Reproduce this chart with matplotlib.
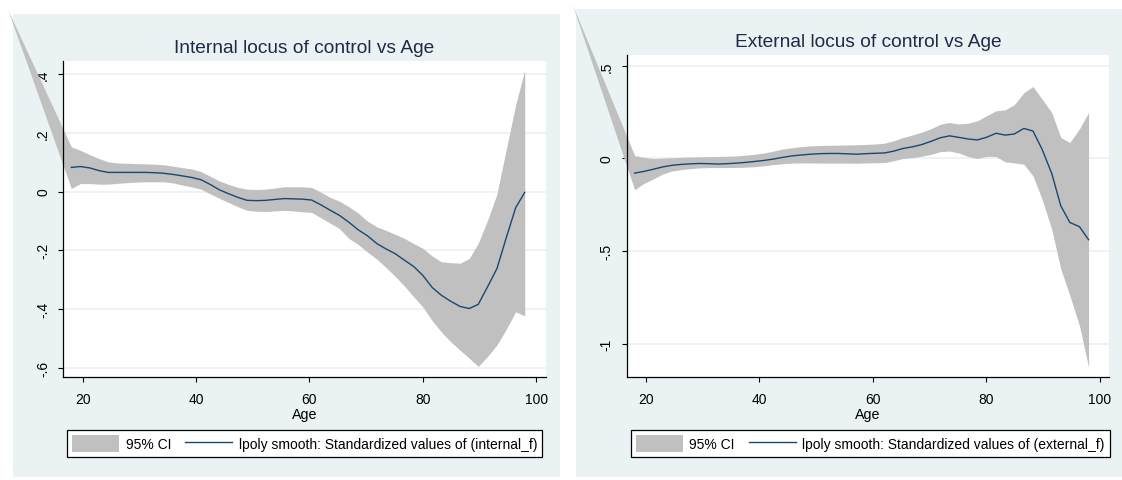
import numpy as np
import matplotlib
matplotlib.use("Agg")
import matplotlib.pyplot as plt
from matplotlib.patches import Rectangle
from matplotlib import font_manager

plt.rcParams['font.family'] = ['Liberation Sans', 'DejaVu Sans']

# ---------------- data: internal locus of control ----------------
int_age = [6.8, 18.0, 19.6, 21.3, 22.9, 24.5, 26.2, 27.8, 29.4, 31.1, 32.7, 34.3,
           36.0, 37.6, 39.2, 40.9, 42.5, 44.1, 45.8, 47.4, 49.0, 50.7, 52.3, 53.9,
           55.6, 57.2, 58.8, 60.4, 62.1, 63.7, 65.3, 67.0, 68.6, 70.2, 71.9, 73.5,
           75.1, 76.8, 78.4, 80.0, 81.7, 83.3, 84.9, 86.6, 88.2, 89.8, 91.5, 93.1,
           94.7, 96.4, 98.0]
int_fit = [np.nan, 0.082, 0.085, 0.080, 0.071, 0.065, 0.065, 0.065, 0.065, 0.065, 0.064, 0.062,
           0.058, 0.053, 0.048, 0.040, 0.024, 0.006, -0.008, -0.020, -0.030, -0.031, -0.030, -0.027,
           -0.024, -0.025, -0.026, -0.029, -0.046, -0.064, -0.081, -0.105, -0.130, -0.150, -0.177, -0.195,
           -0.211, -0.234, -0.255, -0.285, -0.327, -0.353, -0.373, -0.391, -0.398, -0.384, -0.322, -0.262,
           -0.160, -0.055, -0.003]
int_lo = [0.618, 0.010, 0.027, 0.027, 0.025, 0.025, 0.028, 0.030, 0.032, 0.033, 0.033, 0.033,
          0.029, 0.022, 0.016, 0.008, -0.008, -0.023, -0.038, -0.052, -0.064, -0.067, -0.068, -0.066,
          -0.064, -0.066, -0.069, -0.071, -0.090, -0.108, -0.126, -0.160, -0.180, -0.205, -0.230, -0.258,
          -0.288, -0.322, -0.358, -0.392, -0.440, -0.478, -0.510, -0.540, -0.567, -0.595, -0.560, -0.522,
          -0.470, -0.409, -0.423]
int_hi = [0.618, 0.152, 0.140, 0.125, 0.112, 0.101, 0.097, 0.096, 0.095, 0.094, 0.093, 0.091,
          0.086, 0.081, 0.077, 0.068, 0.052, 0.036, 0.024, 0.014, 0.008, 0.007, 0.008, 0.012,
          0.016, 0.016, 0.016, 0.014, -0.003, -0.020, -0.033, -0.052, -0.073, -0.100, -0.120, -0.132,
          -0.145, -0.160, -0.177, -0.193, -0.220, -0.239, -0.242, -0.244, -0.228, -0.176, -0.095, -0.008,
          0.140, 0.295, 0.413]

# ---------------- data: external locus of control ----------------
ext_age = [7.0, 18.0, 19.6, 21.3, 22.9, 24.5, 26.2, 27.8, 29.4, 31.1, 32.7, 34.3,
           36.0, 37.6, 39.2, 40.9, 42.5, 44.1, 45.8, 47.4, 49.0, 50.7, 52.3, 53.9,
           55.6, 57.2, 58.8, 60.4, 62.1, 63.7, 65.3, 67.0, 68.6, 70.2, 71.9, 73.5,
           75.1, 76.8, 78.4, 80.0, 81.7, 83.3, 84.9, 86.6, 88.2, 89.8, 91.5, 93.1,
           94.7, 96.4, 98.0]
ext_fit = [np.nan, -0.079, -0.070, -0.058, -0.046, -0.037, -0.032, -0.029, -0.027, -0.028, -0.030, -0.028,
           -0.025, -0.021, -0.016, -0.010, -0.003, 0.006, 0.014, 0.019, 0.023, 0.026, 0.027, 0.027,
           0.025, 0.023, 0.026, 0.028, 0.030, 0.040, 0.054, 0.063, 0.075, 0.092, 0.112, 0.122,
           0.114, 0.105, 0.100, 0.114, 0.136, 0.126, 0.132, 0.162, 0.148, 0.050, -0.080, -0.255,
           -0.345, -0.368, -0.438]
ext_lo = [0.832, -0.169, -0.135, -0.110, -0.085, -0.068, -0.060, -0.055, -0.051, -0.049, -0.049, -0.049,
          -0.048, -0.047, -0.044, -0.039, -0.033, -0.028, -0.025, -0.024, -0.024, -0.025, -0.025, -0.025,
          -0.025, -0.026, -0.024, -0.023, -0.022, -0.012, 0.000, 0.005, 0.012, 0.022, 0.037, 0.040,
          0.030, 0.010, 0.000, 0.011, 0.011, -0.018, -0.024, -0.031, -0.094, -0.219, -0.381, -0.596,
          -0.740, -0.902, -1.126]
ext_hi = [0.832, 0.016, 0.006, 0.000, 0.002, 0.004, 0.006, 0.008, 0.009, 0.010, 0.011, 0.012,
          0.014, 0.018, 0.023, 0.030, 0.040, 0.051, 0.058, 0.064, 0.068, 0.070, 0.071, 0.072,
          0.073, 0.074, 0.076, 0.078, 0.083, 0.096, 0.113, 0.127, 0.142, 0.160, 0.185, 0.194,
          0.186, 0.190, 0.203, 0.230, 0.257, 0.262, 0.290, 0.355, 0.388, 0.320, 0.248, 0.113,
          0.086, 0.160, 0.248]

x_ticks = [20, 40, 60, 80, 100]
int_yticks = [0.4, 0.2, 0.0, -0.2, -0.4, -0.6]
int_ylabels = [".4", ".2", "0", "-.2", "-.4", "-.6"]
ext_yticks = [0.5, 0.0, -0.5, -1.0]
ext_ylabels = [".5", "0", "-.5", "-1"]

panels = [
    dict(title="Internal locus of control vs Age", age=int_age, fit=int_fit, lo=int_lo, hi=int_hi,
         yt=int_yticks, yl=int_ylabels, ylim=(-0.632, 0.445), xlim=(16.53, 101.7),
         rect=[63 / 1122, 1 - 378.3 / 481, (545.7 - 63) / 1122, (378.3 - 61.7) / 481],
         bg=[12.9, 15, 560, 478], leg=(67.3, 431),
         label="lpoly smooth: Standardized values of (internal_f)"),
    dict(title="External locus of control vs Age", age=ext_age, fit=ext_fit, lo=ext_lo, hi=ext_hi,
         yt=ext_yticks, yl=ext_ylabels, ylim=(-1.18, 0.558), xlim=(16.6, 101.6),
         rect=[626.7 / 1122, 1 - 378.3 / 481, (1109 - 626.7) / 1122, (378.3 - 56) / 481],
         bg=[576, 10, 1122, 478], leg=(630.7, 431),
         label="lpoly smooth: Standardized values of (external_f)"),
]

# legend font: a narrow face if available (Stata's legend text is condensed)
try:
    font_manager.findfont(font_manager.FontProperties(family="Liberation Sans Narrow"),
                          fallback_to_default=False)
    LEG_FAMILY = ["Liberation Sans Narrow", "Liberation Sans", "DejaVu Sans"]
    LEG_PT = 12.0
except Exception:
    LEG_FAMILY = ["Liberation Sans", "DejaVu Sans"]
    LEG_PT = 10.0
LEG_PX = LEG_PT * 100 / 72.0

W, H = 1122, 481
fig = plt.figure(figsize=(W / 100, H / 100), dpi=100)
fig.patch.set_facecolor("white")

BG = "#EAF2F3"
BAND = "#C0C0C0"
NAVY = "#1A476F"

# handle geometry in pixels -> font-size units
patch_h_px = 17.3
hh = (patch_h_px / LEG_PX - 0.245) / 0.65

for p in panels:
    x0, y0, x1, y1 = p["bg"]
    fig.patches.append(Rectangle((x0 / W, 1 - y1 / H), (x1 - x0) / W, (y1 - y0) / H,
                                 transform=fig.transFigure, facecolor=BG, edgecolor="none", zorder=-5))

    ax = fig.add_axes(p["rect"])
    ax.set_facecolor("white")
    ax.set_axisbelow(True)
    band = ax.fill_between(p["age"], p["lo"], p["hi"], color=BAND, linewidth=0, zorder=1.5,
                           label="95% CI")
    band.set_clip_on(False)
    line, = ax.plot(p["age"], p["fit"], color=NAVY, lw=1.0, zorder=2, label=p["label"])

    ax.set_xlim(*p["xlim"])
    ax.set_ylim(*p["ylim"])
    ax.set_xticks(x_ticks)
    ax.set_xticklabels([str(t) for t in x_ticks])
    ax.set_yticks(p["yt"])
    ax.set_yticklabels(p["yl"], rotation=90, va="center")
    ax.grid(axis="y", color=BG, lw=1.3)
    ax.grid(axis="x", visible=False)
    for s in ["top", "right"]:
        ax.spines[s].set_visible(False)
    for s in ["left", "bottom"]:
        ax.spines[s].set_linewidth(0.9)
        ax.spines[s].set_color("black")
    ax.tick_params(axis="x", length=3.5, width=0.8, pad=7, labelsize=10)
    ax.tick_params(axis="y", length=3.5, width=0.8, pad=5.8, labelsize=10)
    ax.set_xlabel("Age", fontsize=10.3, labelpad=1)
    ax.set_title(p["title"], fontsize=13.8, color="#1E2A48", pad=6.5)

    lx, ly = p["leg"]
    leg = ax.legend(handles=[band, line], loc="upper left", bbox_to_anchor=(lx / W, 1 - ly / H),
                    bbox_transform=fig.transFigure, ncol=2, frameon=True,
                    prop={"family": LEG_FAMILY, "size": LEG_PT},
                    fancybox=False, edgecolor="black", framealpha=1,
                    borderpad=5.0 / LEG_PX, handlelength=47.0 / LEG_PX, handleheight=hh,
                    handletextpad=6.5 / LEG_PX, columnspacing=14.0 / LEG_PX, borderaxespad=0)
    leg.get_frame().set_linewidth(0.9)

fig.savefig("out.png", dpi=100, facecolor="white")
